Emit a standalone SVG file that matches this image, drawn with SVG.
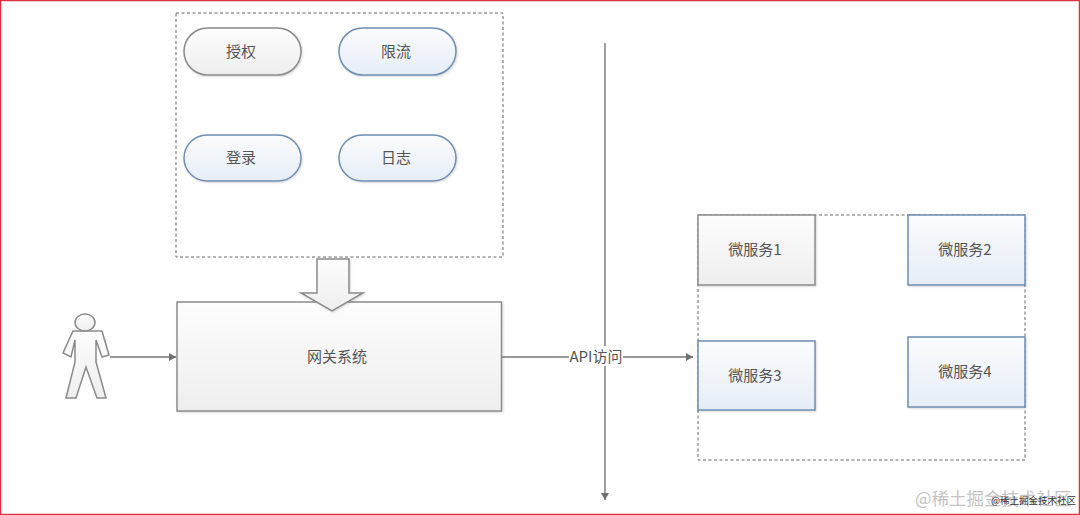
<svg xmlns="http://www.w3.org/2000/svg" width="1080" height="515" viewBox="0 0 1080 515">
<style>
.t{font-family:"Noto Sans CJK SC","Liberation Sans",sans-serif;font-size:15px;fill:#555;text-anchor:middle}
.dash{fill:none;stroke:#666;stroke-width:1;stroke-dasharray:3 2.500}
.gray{stroke:#8a8a8a;stroke-width:1.500;fill:url(#g)}
.blue{stroke:#6f8db3;stroke-width:1.500;fill:url(#b)}
.line{fill:none;stroke:#777;stroke-width:1.400}
.s{filter:url(#sh)}
</style>
<defs>
<linearGradient id="g" x1="0" y1="0" x2="0" y2="1"><stop offset="0" stop-color="#fdfdfd"/><stop offset="1" stop-color="#eeeeee"/></linearGradient>
<linearGradient id="b" x1="0" y1="0" x2="0" y2="1"><stop offset="0" stop-color="#fbfcfe"/><stop offset="1" stop-color="#e6edf6"/></linearGradient>
<marker id="a" markerWidth="8" markerHeight="8" refX="7" refY="4" orient="auto" markerUnits="userSpaceOnUse"><path d="M0 0L7 4L0 8Z" fill="#707070"/></marker>
<filter id="sh" x="-5%" y="-5%" width="110%" height="115%"><feDropShadow dx="1" dy="1" stdDeviation="1" flood-color="#000" flood-opacity=".15"/></filter>
</defs>
<rect width="1080" height="515" fill="#fff"/>
<g id="frames">
<rect class="dash" x="176" y="13" width="327" height="244"/>
<rect class="dash" x="698" y="215" width="327" height="245"/>
</g>
<g id="connectors">
<path class="line" d="M110 357H176" marker-end="url(#a)"/>
<path class="line" d="M605 43V500" marker-end="url(#a)"/>
<path class="line" d="M502 357H693" marker-end="url(#a)"/>
</g>
<g id="gateway"><rect class="gray s" x="177" y="302" width="324.500" height="109"/><text class="t" x="337" y="362">网关系统</text></g>
<g id="block-arrow"><path class="gray s" d="M317 259H349V293H363L332 311L301 293H317Z"/></g>
<g id="user"><path class="gray" d="M73 331H102L109 355L102 357L96 340V362L106 398H97L86 367L76 398H66L75 362V340L71 357L63 353Z"/><ellipse class="gray" cx="85" cy="322.500" rx="10" ry="8.500"/></g>
<g id="auth"><rect class="gray s" x="184" y="28" width="117" height="47" rx="23.500"/><text class="t" x="241" y="57">授权</text></g>
<g id="limit"><rect class="blue s" x="339" y="28" width="117" height="47" rx="23.500"/><text class="t" x="396" y="57">限流</text></g>
<g id="login"><rect class="blue s" x="184" y="135" width="117" height="46" rx="23"/><text class="t" x="241" y="163">登录</text></g>
<g id="log"><rect class="blue s" x="339" y="135" width="117" height="46" rx="23"/><text class="t" x="396" y="163">日志</text></g>
<g id="svc1"><rect class="gray s" x="698" y="215" width="117" height="70"/><text class="t" x="755" y="255">微服务1</text></g>
<g id="svc2"><rect class="blue s" x="908" y="215" width="117" height="70"/><text class="t" x="965" y="255">微服务2</text></g>
<g id="svc3"><rect class="blue s" x="698" y="341" width="117" height="69"/><text class="t" x="755" y="381">微服务3</text></g>
<g id="svc4"><rect class="blue s" x="908" y="337" width="117" height="70"/><text class="t" x="965" y="377">微服务4</text></g>
<g id="api-label"><rect x="569" y="346" width="54" height="20" fill="#fff"/><text class="t" x="596" y="362">API访问</text></g>
<text x="915" y="505" style="font-family:'Noto Sans CJK SC',sans-serif;font-size:17.500px;fill:#c4c4c4">@稀土掘金技术社区</text>
<text x="991" y="504" style="font-family:'Noto Sans CJK SC',sans-serif;font-size:9.500px;fill:#333">@稀土掘金技术社区</text>
<rect x="0.500" y="0.500" width="1079" height="514" fill="none" stroke="#e0303f" stroke-width="1.500"/>
</svg>
